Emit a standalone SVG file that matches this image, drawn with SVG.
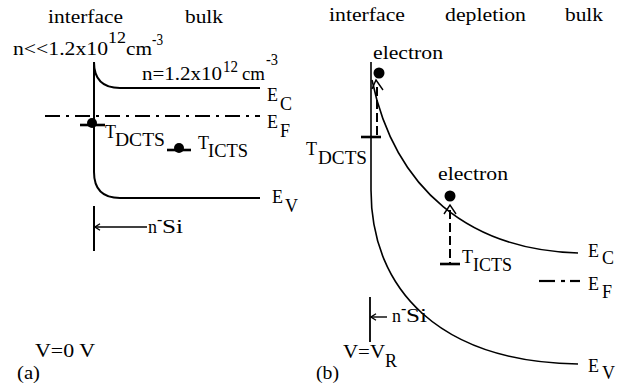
<svg xmlns="http://www.w3.org/2000/svg" width="627" height="387" viewBox="0 0 627 387" font-family="'Liberation Serif', 'Times New Roman', serif" font-size="18">
<style>
text{font-family:'Liberation Serif','Times New Roman',serif;font-size:18px;fill:#000}
text tspan{font-family:'Liberation Serif','Times New Roman',serif}
.sup{font-size:16px}
.la{fill:none;stroke:#000;stroke-width:2}
.lb{fill:none;stroke:#000;stroke-width:1.6}
.ef{stroke:#000;stroke-width:2.2;stroke-dasharray:15 6 3 6}
.bar{stroke:#000;stroke-width:2.6}
.dash{stroke:#000;stroke-width:2;stroke-dasharray:9 4}
.thin{stroke:#000;stroke-width:1.4;fill:none}
</style>
<defs>
<marker id="ah" viewBox="0 0 8 8" refX="6.5" refY="4" markerWidth="8" markerHeight="8" markerUnits="userSpaceOnUse" orient="auto">
<path d="M1.5,0.8 L6.5,4 L1.5,7.2" fill="none" stroke="#000" stroke-width="1.3"/>
</marker>
</defs>
<rect width="627" height="387" fill="#fff"/>

<g id="panel-a-labels">
<text x="48" y="23" textLength="75" lengthAdjust="spacingAndGlyphs">interface</text>
<text x="185" y="23" textLength="38" lengthAdjust="spacingAndGlyphs">bulk</text>
<text x="13" y="55"><tspan textLength="95" lengthAdjust="spacingAndGlyphs">n&lt;&lt;1.2x10</tspan><tspan class="sup" x="108" y="43" textLength="18" lengthAdjust="spacingAndGlyphs">12</tspan><tspan x="126" y="55" textLength="26" lengthAdjust="spacingAndGlyphs">cm</tspan><tspan class="sup" x="152" y="45" textLength="11" lengthAdjust="spacingAndGlyphs">-3</tspan></text>
<text x="142" y="80"><tspan textLength="80" lengthAdjust="spacingAndGlyphs">n=1.2x10</tspan><tspan class="sup" x="223" y="72" textLength="15" lengthAdjust="spacingAndGlyphs">12</tspan><tspan x="242" y="80" textLength="23" lengthAdjust="spacingAndGlyphs">cm</tspan><tspan class="sup" x="266" y="65" textLength="12" lengthAdjust="spacingAndGlyphs">-3</tspan></text>
<text x="35" y="357" textLength="60" lengthAdjust="spacingAndGlyphs">V=0 V</text>
<text x="17" y="379" textLength="23" lengthAdjust="spacingAndGlyphs">(a)</text>
</g>

<g id="a-EC">
<path class="la" d="M94,62 C94,79 103,88 120,88 L260,88"/>
<text x="267" y="101">E<tspan x="280" y="110">C</tspan></text>
</g>
<g id="a-EF">
<line class="ef" x1="45" y1="116" x2="260" y2="116"/>
<text x="267" y="128">E<tspan x="280" y="137">F</tspan></text>
</g>
<g id="a-EV">
<path class="la" d="M94,62 L94,172 C94,189 103,198 120,198 L260,198"/>
<text x="272" y="203">E<tspan x="285" y="212">V</tspan></text>
</g>
<g id="a-TDCTS">
<line class="bar" x1="80" y1="125" x2="105" y2="125"/>
<circle cx="92" cy="123" r="5"/>
<text x="105" y="138">T<tspan x="115" y="146" textLength="50" lengthAdjust="spacingAndGlyphs">DCTS</tspan></text>
</g>
<g id="a-TICTS">
<line class="bar" x1="167" y1="150" x2="191" y2="150"/>
<circle cx="179" cy="148" r="5"/>
<text x="198" y="149">T<tspan x="208" y="157" textLength="40" lengthAdjust="spacingAndGlyphs">ICTS</tspan></text>
</g>
<g id="a-nSi">
<line x1="94" y1="206" x2="94" y2="251" stroke="#000" stroke-width="2"/>
<text x="148" y="233">n<tspan class="sup" x="157" y="225">-</tspan><tspan x="162" y="233" textLength="21" lengthAdjust="spacingAndGlyphs">Si</tspan></text>
</g>

<g id="panel-b-labels">
<text x="329" y="21" textLength="76" lengthAdjust="spacingAndGlyphs">interface</text>
<text x="445" y="21" textLength="81" lengthAdjust="spacingAndGlyphs">depletion</text>
<text x="565" y="21" textLength="38" lengthAdjust="spacingAndGlyphs">bulk</text>
<text x="343" y="358"><tspan textLength="42" lengthAdjust="spacingAndGlyphs">V=V</tspan><tspan x="385" y="367">R</tspan></text>
<text x="316" y="379" textLength="23" lengthAdjust="spacingAndGlyphs">(b)</text>
</g>
<g id="b-EV">
<path class="lb" d="M371,62 L371,190 C371,290 440,362 578,364"/>
<text x="588" y="372">E<tspan x="602" y="379">V</tspan></text>
</g>
<g id="b-EC">
<path class="lb" d="M372,80 C395,190 470,250 578,253"/>
<text x="588" y="257">E<tspan x="602" y="264">C</tspan></text>
</g>
<g id="b-EF">
<line x1="539" y1="281" x2="555" y2="281" stroke="#000" stroke-width="2.2"/>
<line x1="561" y1="281" x2="565" y2="281" stroke="#000" stroke-width="2.2"/>
<line x1="570" y1="281" x2="580" y2="281" stroke="#000" stroke-width="2.2"/>
<text x="588" y="290">E<tspan x="602" y="298">F</tspan></text>
</g>
<g id="b-electron1">
<text x="373" y="59" textLength="70" lengthAdjust="spacingAndGlyphs">electron</text>
<circle cx="379" cy="73" r="5.5"/>
</g>
<g id="b-TDCTS">
<line class="bar" x1="361" y1="137" x2="381" y2="137"/>
<text x="306" y="155">T<tspan x="318" y="164" textLength="49" lengthAdjust="spacingAndGlyphs">DCTS</tspan></text>
</g>
<g id="b-electron2">
<text x="438" y="180" textLength="70" lengthAdjust="spacingAndGlyphs">electron</text>
<circle cx="450" cy="196" r="5.5"/>
</g>
<g id="b-TICTS">
<line class="bar" x1="440" y1="264" x2="460" y2="264"/>
<text x="462" y="263">T<tspan x="473" y="271" textLength="39" lengthAdjust="spacingAndGlyphs">ICTS</tspan></text>
</g>
<g id="b-nSi">
<line x1="370" y1="297" x2="370" y2="342" stroke="#000" stroke-width="1.8"/>
<text x="392" y="322">n<tspan class="sup" x="401" y="314">-</tspan><tspan x="406" y="322" textLength="21" lengthAdjust="spacingAndGlyphs">Si</tspan></text>
</g>

<g id="connectors">
<line class="thin" x1="147" y1="227" x2="95" y2="227" marker-end="url(#ah)"/>
<line class="thin" x1="387" y1="317" x2="371" y2="317" marker-end="url(#ah)"/>
<line class="dash" x1="377" y1="87" x2="377" y2="137"/>
<polyline class="thin" stroke-width="2" points="372,89 376,80 383,90"/>
<line class="dash" x1="450" y1="210" x2="450" y2="264"/>
<polyline class="thin" stroke-width="2" points="444,214 450,205 456,214"/>
</g>
</svg>
